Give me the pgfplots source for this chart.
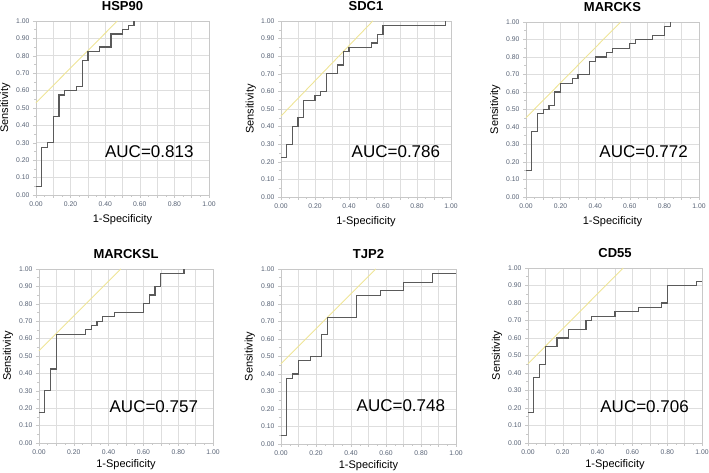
\documentclass[border=0pt]{standalone}
\usepackage{pgfplots}
\pgfplotsset{compat=1.18}
\usepackage{fontspec}
\setmainfont{Liberation Sans}
\definecolor{tickcol}{RGB}{85,96,115}
\definecolor{gridcol}{RGB}{222,222,222}
\definecolor{framecol}{RGB}{200,200,200}
\definecolor{curvecol}{RGB}{90,90,90}
\definecolor{diagcol}{RGB}{238,228,150}
\pgfplotsset{
  rocstyle/.style={
    scale only axis,
    xmin=0, xmax=1, ymin=0, ymax=1,
    axis line style={framecol},
    xtick={0,0.1,0.2,0.3,0.4,0.5,0.6,0.7,0.8,0.9,1},
    xticklabels={0.00,,0.20,,0.40,,0.60,,0.80,,1.00},
    ytick={0,0.1,0.2,0.3,0.4,0.5,0.6,0.7,0.8,0.9,1},
    yticklabels={0.00,0.10,0.20,0.30,0.40,0.50,0.60,0.70,0.80,0.90,1.00},
    minor y tick num=1, minor x tick num=1,
    xmajorgrids, ymajorgrids,
    major grid style={gridcol, line width=0.6pt},
    tick align=outside,
    major tick length=3pt, minor tick length=2pt,
    tick style={framecol, line width=0.5pt},
    xtick pos=bottom, ytick pos=left,
    ticklabel style={font=\fontsize{6.8}{7.5}\selectfont, text=tickcol},
    /pgf/number format/assume math mode=true,
    xlabel={1-Specificity}, ylabel={Sensitivity},
    every axis x label/.style={at={(axis description cs:0.5,-0.14)}, anchor=center, font=\fontsize{11}{13}\selectfont},
    every axis y label/.style={at={(axis description cs:-0.178,0.5)}, anchor=center, rotate=90, font=\fontsize{11}{13}\selectfont},
    every axis title/.style={at={(axis description cs:0.5,1.085)}, anchor=center, font=\fontsize{13}{15}\selectfont\bfseries},
    clip=false,
    anchor=south west,
  },
  bottomrow/.style={every axis x label/.style={at={(axis description cs:0.5,-0.125)}, anchor=center, font=\fontsize{11}{13}\selectfont}},
  roc/.style={const plot, curvecol, line width=1.2pt, no marks},
  diag/.style={diagcol, line width=0.9pt, no marks},
}
\begin{document}
\begin{tikzpicture}
\useasboundingbox (0,0) rectangle (709pt,473pt);
% HSP90
\begin{axis}[rocstyle, at={(36pt,278pt)}, width=173pt, height=174pt, title={HSP90}]
\addplot[diag] coordinates {(0,0.53) (0.47,1.0)};
\addplot[roc] coordinates {(0,0.05)(0.033,0.275)(0.067,0.30)(0.1,0.45)(0.133,0.575)(0.167,0.60)(0.233,0.625)(0.267,0.775)(0.3,0.825)(0.367,0.85)(0.433,0.925)(0.5,0.95)(0.533,0.975)(0.567,1.0)};
\node[font=\fontsize{17}{20}\selectfont] at (axis cs:0.655,0.247) {AUC=0.813};
\end{axis}
% SDC1
\begin{axis}[rocstyle, at={(281pt,276pt)}, width=170pt, height=176pt, title={SDC1}]
\addplot[diag] coordinates {(0,0.46) (0.54,1.0)};
\addplot[roc] coordinates {(0,0.225)(0.033,0.30)(0.067,0.40)(0.1,0.45)(0.133,0.55)(0.2,0.575)(0.233,0.60)(0.267,0.70)(0.333,0.75)(0.367,0.825)(0.4,0.85)(0.533,0.875)(0.567,0.925)(0.6,0.975)(0.967,1.0)};
\node[font=\fontsize{17}{20}\selectfont] at (axis cs:0.676,0.256) {AUC=0.786};
\end{axis}
% MARCKS
\begin{axis}[rocstyle, at={(526pt,276pt)}, width=173pt, height=175pt, title={MARCKS}]
\addplot[diag] coordinates {(0,0.453) (0.547,1.0)};
\addplot[roc] coordinates {(0,0.15)(0.033,0.375)(0.067,0.475)(0.1,0.50)(0.133,0.525)(0.167,0.60)(0.2,0.65)(0.267,0.675)(0.3,0.70)(0.367,0.775)(0.4,0.80)(0.467,0.825)(0.5,0.85)(0.6,0.875)(0.633,0.90)(0.733,0.925)(0.8,0.975)(0.833,1.0)};
\node[font=\fontsize{17}{20}\selectfont] at (axis cs:0.68,0.257) {AUC=0.772};
\end{axis}
% MARCKSL
\begin{axis}[rocstyle, bottomrow, at={(39pt,30pt)}, width=174pt, height=174pt, title={MARCKSL}]
\addplot[diag] coordinates {(0,0.53) (0.47,1.0)};
\addplot[roc] coordinates {(0,0.175)(0.033,0.30)(0.067,0.425)(0.1,0.625)(0.267,0.65)(0.3,0.675)(0.333,0.70)(0.367,0.725)(0.433,0.75)(0.6,0.80)(0.633,0.85)(0.667,0.90)(0.7,0.975)(0.833,1.0)};
\node[font=\fontsize{17}{20}\selectfont] at (axis cs:0.66,0.21) {AUC=0.757};
\end{axis}
% TJP2
\begin{axis}[rocstyle, bottomrow, at={(281pt,29pt)}, width=175pt, height=175pt, title={TJP2}]
\addplot[diag] coordinates {(0,0.458) (0.542,1.0)};
\addplot[roc] coordinates {(0,0.05)(0.033,0.375)(0.067,0.40)(0.1,0.475)(0.167,0.50)(0.233,0.625)(0.267,0.725)(0.433,0.85)(0.567,0.875)(0.7,0.925)(0.867,0.975)(1.0,0.975)};
\node[font=\fontsize{17}{20}\selectfont] at (axis cs:0.685,0.217) {AUC=0.748};
\end{axis}
% CD55
\begin{axis}[rocstyle, bottomrow, at={(528pt,30pt)}, width=174pt, height=175pt, title={CD55}]
\addplot[diag] coordinates {(0,0.453) (0.547,1.0)};
\addplot[roc] coordinates {(0,0.175)(0.033,0.375)(0.067,0.45)(0.1,0.55)(0.167,0.60)(0.233,0.65)(0.333,0.70)(0.367,0.725)(0.5,0.75)(0.633,0.775)(0.767,0.80)(0.8,0.90)(0.967,0.925)(1.0,0.925)};
\node[font=\fontsize{17}{20}\selectfont] at (axis cs:0.67,0.21) {AUC=0.706};
\end{axis}
\end{tikzpicture}
\end{document}
